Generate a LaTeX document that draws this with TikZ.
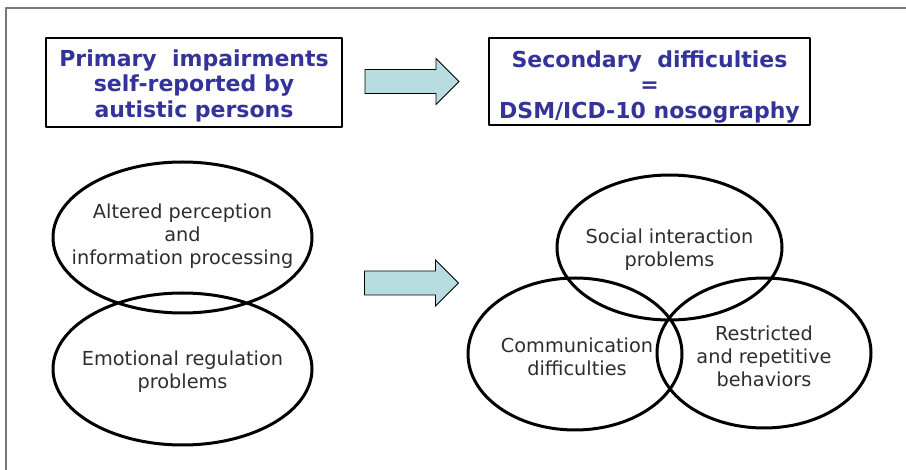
\documentclass[tikz,border=0pt]{standalone}
\usepackage{fontspec}
\setmainfont{DejaVu Sans}
\usetikzlibrary{shapes.geometric,calc,positioning}
\definecolor{navy}{RGB}{51,51,153}
\definecolor{inkgray}{RGB}{45,45,45}
\definecolor{framegray}{RGB}{120,120,120}
\definecolor{arrowfill}{RGB}{183,221,224}
\tikzset{
	titlebox/.style={draw,line width=2pt,rectangle,inner sep=0pt},
	titletext/.style={inner sep=0pt,align=center,text=navy,
		font=\fontsize{22}{25.5}\selectfont\bfseries},
	ovaltext/.style={inner sep=0pt,align=center,text=inkgray,
		font=\fontsize{19.3}{22.8}\selectfont},
	ovalline/.style={line width=3pt},
	blockarrow/.style={draw,line width=0.8pt,fill=arrowfill,line join=miter}
}

\begin{document}
\begin{tikzpicture}[x=1pt,y=-1pt,line join=round,line cap=round]
		\useasboundingbox (0,0) rectangle (906,470);
		\draw[framegray,line width=2pt,line cap=butt] (6,470)--(6,8)--(906,8);
		% boxes on top
		\node[titlebox,minimum width=296pt,minimum height=89pt] (P) at (194,82.5) {};
		\node[titletext] (Ptext) at ($(P)+(0,3)$) {Primary\ \ impairments\\self-reported by\\autistic persons};
		\node[titlebox,minimum width=321pt,minimum height=87pt] (S) at (649.5,81.5) {};
		\node[titletext] (Stext) at ($(S)+(0,5.5)$) {Secondary\ \ difficulties\\=\\DSM/ICD-10 nosography};
		% ovals
		\node[ovaltext] (alt) at (182.5,236) {Altered perception\\and\\information processing};
		\node[ovaltext] (emo) at (182.5,371.5) {Emotional regulation\\problems};
		\node[ovaltext] (soc) at (669.5,249.5) {Social interaction\\problems};
		\node[ovaltext] (com) at (577,357) {Communication\\difficulties};
		\node[ovaltext] (rep) at (764,356.5) {Restricted\\and repetitive\\behaviors};
		\draw[ovalline] (182.5,237.5) ellipse (129.5 and 75.5) (182.5,369) ellipse (129.5 and 76)
			(669.5,247.5) ellipse (112.5 and 72.5) (575,354) ellipse (107 and 76) (764,353) ellipse (107 and 75);
		% block arrows
		\coordinate (A1) at (412,81.5);
		\coordinate (A2) at (411.5,283);
		\foreach \a in {A1,A2}{\draw[blockarrow] ($(\a)+(-47,-12)$) -- ($(\a)+(24,-12)$) -- ($(\a)+(24,-23)$) -- ($(\a)+(47,0)$) -- ($(\a)+(24,23)$) -- ($(\a)+(24,12)$) -- ($(\a)+(-47,12)$) -- cycle;}
\end{tikzpicture}
\end{document}
